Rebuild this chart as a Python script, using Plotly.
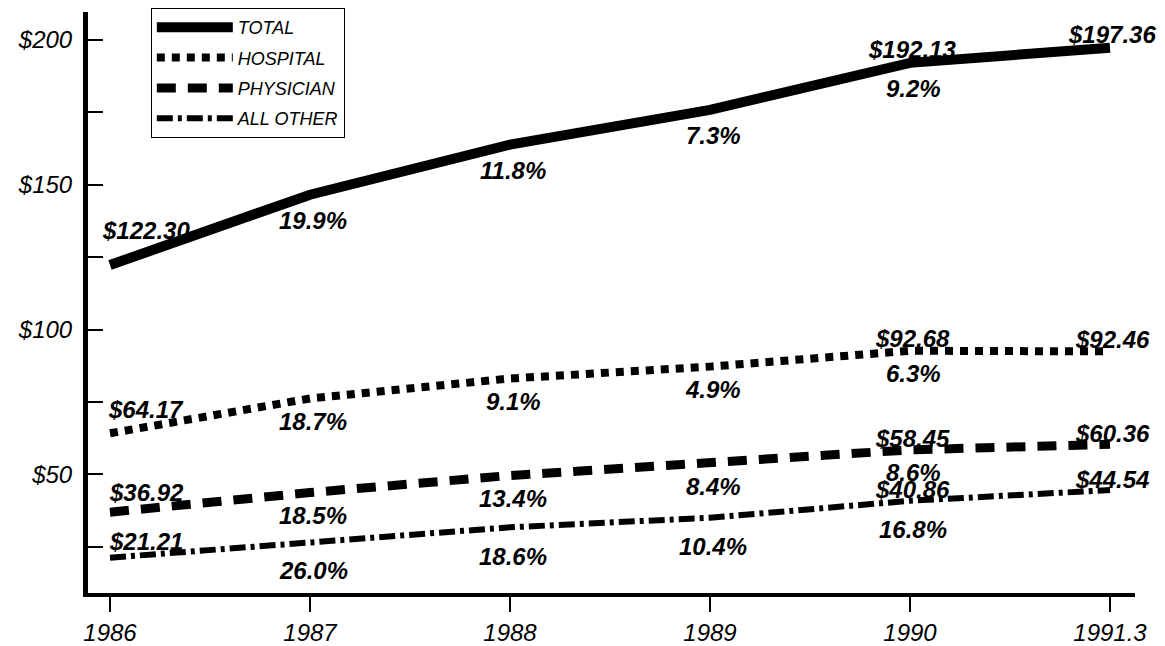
import plotly.graph_objects as go

# ---- data ----
years = [1986, 1987, 1988, 1989, 1990, 1991]
year_labels = ["1986", "1987", "1988", "1989", "1990", "1991.3"]

total = [122.30, 146.6, 163.9, 175.9, 192.13, 197.36]
hospital = [64.17, 76.2, 83.1, 87.2, 92.68, 92.46]
physician = [36.92, 43.7, 49.6, 53.8, 58.45, 60.36]
all_other = [21.21, 26.7, 31.7, 35.0, 40.86, 44.54]

growth_years = [1987, 1988, 1989, 1990]
total_growth = ["19.9%", "11.8%", "7.3%", "9.2%"]
hospital_growth = ["18.7%", "9.1%", "4.9%", "6.3%"]
physician_growth = ["18.5%", "13.4%", "8.4%", "8.6%"]
other_growth = ["26.0%", "18.6%", "10.4%", "16.8%"]

series_names = ["TOTAL", "HOSPITAL", "PHYSICIAN", "ALL OTHER"]

# ---- styles ----
FONT = "Liberation Sans, Arial, Helvetica, sans-serif"
styles = [
    dict(width=10, dash="solid"),
    dict(width=8, dash="8px,7px"),
    dict(width=9, dash="19px,12px"),
    dict(width=6, dash="16px,5px,4px,5px"),
]
# vertical offsets (px) for labels: dollar labels above at 1986, 1990, 1991.3; growth below
first_shift = [35, 24, 20, 16]
end_shift = [13, 12, 11, 11]
growth_shift = [-26, -23, -23, -29]

all_series = [total, hospital, physician, all_other]
all_growth = [total_growth, hospital_growth, physician_growth, other_growth]

fig = go.Figure()
for i, (name, vals) in enumerate(zip(series_names, all_series)):
    fig.add_trace(go.Scatter(
        x=years, y=vals, mode="lines", name=name,
        legendgroup=name,
        line=dict(color="black", width=styles[i]["width"], dash=styles[i]["dash"]),
    ))

annotations = []
lab_font = dict(family=FONT, size=24, color="black", style="italic", weight="bold")
for i, vals in enumerate(all_series):
    annotations.append(dict(x=years[0], y=vals[0], text=f"${vals[0]:.2f}", showarrow=False,
                            xanchor="center", yanchor="middle", xshift=36,
                            yshift=first_shift[i], font=lab_font))
    for j in (4, 5):
        annotations.append(dict(x=years[j], y=vals[j], text=f"${vals[j]:.2f}", showarrow=False,
                                xanchor="center", yanchor="middle", xshift=2,
                                yshift=end_shift[i], font=lab_font))
    for gx, gt in zip(growth_years, all_growth[i]):
        gy = vals[years.index(gx)]
        annotations.append(dict(x=gx, y=gy, text=gt, showarrow=False,
                                xanchor="center", yanchor="middle", xshift=3,
                                yshift=growth_shift[i], font=lab_font))

fig.update_layout(
    width=1165, height=646,
    margin=dict(l=88, r=30, t=12, b=53, autoexpand=False),
    paper_bgcolor="white", plot_bgcolor="white",
    font=dict(family=FONT, color="black"),
    annotations=annotations,
    showlegend=True,
    legend=dict(
        x=0.06, y=1.007, xanchor="left", yanchor="top",
        bordercolor="black", borderwidth=1, bgcolor="white",
        font=dict(family=FONT, size=18, style="italic", color="black"),
        tracegroupgap=4, itemwidth=76,
        entrywidth=200, entrywidthmode="pixels",
    ),
    xaxis=dict(
        range=[1985.89, 1991.125], tickvals=years, ticktext=year_labels,
        automargin=False,
        showgrid=False, zeroline=False, showline=True, linecolor="black", linewidth=4,
        ticks="outside", ticklen=15, tickwidth=1.5, tickcolor="black",
        tickfont=dict(family=FONT, size=24, style="italic", color="black"),
    ),
    yaxis=dict(
        range=[9, 209.7], tickvals=[50, 100, 150, 200],
        ticktext=["$50", "$100", "$150", "$200"],
        automargin=False,
        showgrid=False, zeroline=False, showline=True, linecolor="black", linewidth=5,
        ticks="inside", ticklen=15, tickwidth=1.5, tickcolor="black",
        minor=dict(dtick=25, tick0=0, ticks="inside", ticklen=15, tickwidth=1.5, tickcolor="black"),
        ticklabelstandoff=6,
        tickfont=dict(family=FONT, size=24, style="italic", color="black"),
    ),
)

fig.write_html("out.html")
